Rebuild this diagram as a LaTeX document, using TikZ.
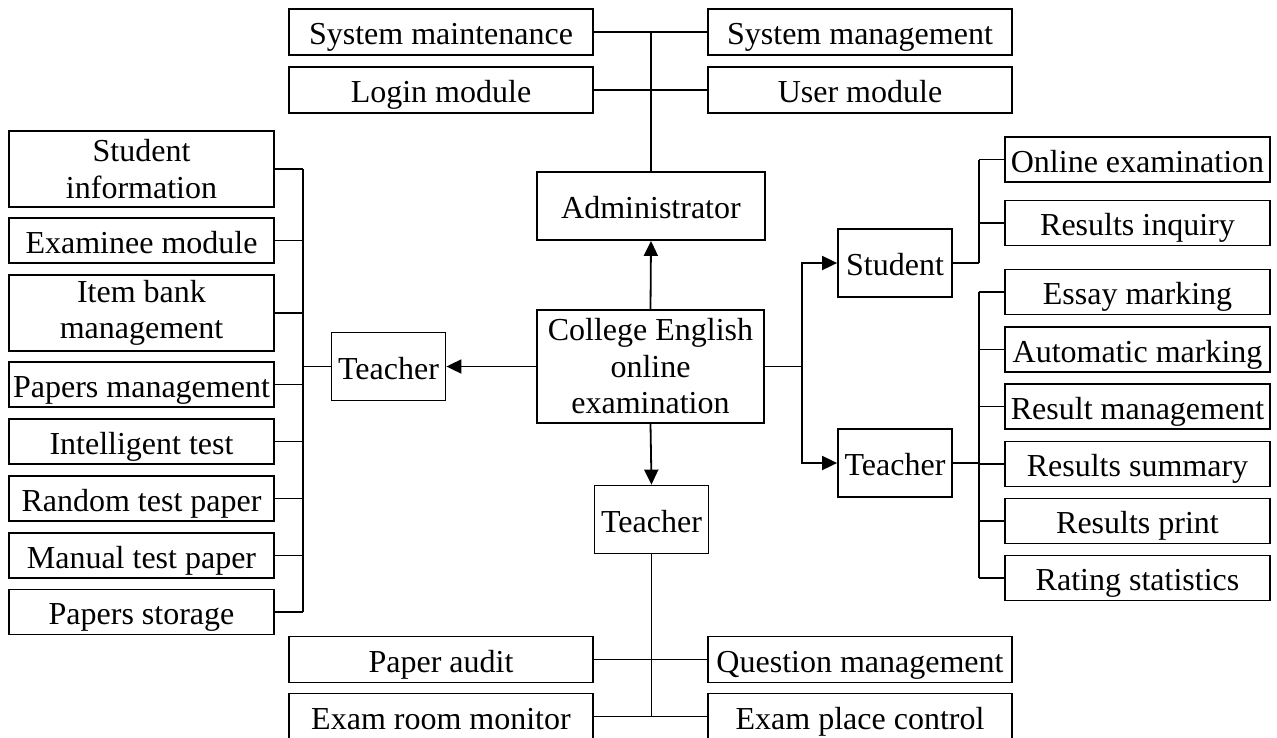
\documentclass[tikz,border=0pt]{standalone}
\usepackage{fontspec}
\setmainfont{Liberation Serif}
\usepackage{tikz}
\usetikzlibrary{arrows.meta,positioning}

\begin{document}
\begin{tikzpicture}[x=1pt,y=-1pt,line width=1.8pt,
    box/.style={draw, inner sep=0pt, align=center,
    font=\fontsize{32}{36.5}\selectfont},
    one/.style={box, text height=29pt, text depth=4pt},
    wide/.style={one, minimum width=304pt, minimum height=46pt},
    mod/.style={one, minimum width=265pt, minimum height=45pt},
    modtwo/.style={box, minimum width=265pt, minimum height=76pt},
    role/.style={one, minimum width=114pt, minimum height=68pt},
    arr/.style={-{Triangle[length=15pt,width=14pt]}}]
    \useasboundingbox (0,0) rectangle (1277,737);
    % centre and the four roles
    \node[box, minimum width=227pt, minimum height=113pt] (cee) at (650.5,366.5)
        {College English\\online\\examination};
    \node[one, minimum width=228pt, minimum height=68pt] (adm) at (651,206) {Administrator};
    \node[role] (tb) at (651.5,519.5) {Teacher};
    \node[role] (tl) at (388.5,366.5) {Teacher};
    \node[role] (st) at (895,263) {Student};
    \node[role] (tr) at (895,463) {Teacher};
    % administrator modules
    \node[wide] (sm) at (441,32) {System maintenance};
    \node[wide] (lg) at (441,90) {Login module};
    \node[wide] (sg) at (860,32) {System management};
    \node[wide] (um) at (860,90) {User module};
    % teacher (bottom) modules
    \node[wide] (pa) at (441,659.5) {Paper audit};
    \node[wide] (er) at (441,716.5) {Exam room monitor};
    \node[wide] (qm) at (860,659.5) {Question management};
    \node[wide] (ep) at (860,716.5) {Exam place control};
    % teacher (left) modules
    \node[modtwo] (l1) at (141.5,169) {Student\\information};
    \node[mod] (l2) at (141.5,240.5) {Examinee module};
    \node[modtwo] (l3) at (141.5,313) {Item bank\\management};
    \node[mod] (l4) at (141.5,384.5) {Papers management};
    \node[mod] (l5) at (141.5,441.5) {Intelligent test};
    \node[mod] (l6) at (141.5,498.5) {Random test paper};
    \node[mod] (l7) at (141.5,555.5) {Manual test paper};
    \node[mod] (l8) at (141.5,612) {Papers storage};
    % student and teacher (right) modules
    \node[mod] (r1) at (1137.5,159.5) {Online examination};
    \node[mod] (r2) at (1137.5,223) {Results inquiry};
    \node[mod] (r3) at (1137.5,292) {Essay marking};
    \node[mod] (r4) at (1137.5,349.5) {Automatic marking};
    \node[mod] (r5) at (1137.5,406.5) {Result management};
    \node[mod] (r6) at (1137.5,464) {Results summary};
    \node[mod] (r7) at (1137.5,521) {Results print};
    \node[mod] (r8) at (1137.5,578) {Rating statistics};
    % bus lines
    \coordinate (rs) at (802,366.5);
    \coordinate (lb) at (303,0);
    \coordinate (rb) at (979,0);
    % arrows from the centre
    \draw[arr] (cee.north) -- (adm.south);
    \draw[arr] (cee.south) -- (tb.north);
    \draw[arr] (cee.west) -- (tl.east);
    \draw (cee.east) -- (rs);
    \draw[arr] (rs) |- (st.west);
    \draw[arr] (rs) |- (tr.west);
    % top
    \draw (adm.north) -- (adm.north |- sm.east);
    \draw (sm.east) -- (sg.west);
    \draw (lg.east) -- (um.west);
    % bottom
    \draw (tb.south) -- (tb.south |- er.east);
    \draw (pa.east) -- (qm.west);
    \draw (er.east) -- (ep.west);
    % left
    \draw (tl.west) -- (lb |- tl.west);
    \draw (lb |- l1.east) -- (lb |- l8.east);
    \foreach \n in {l1,l2,l3,l4,l5,l6,l7,l8}
        \draw (\n.east) -- (lb |- \n.east);
    % right
    \draw (st.east) -- (rb |- st.east);
    \draw (rb |- r1.west) -- (rb |- st.east);
    \draw (tr.east) -- (rb |- tr.east);
    \draw (rb |- r3.west) -- (rb |- r8.west);
    \foreach \n in {r1,r2,r3,r4,r5,r6,r7,r8}
        \draw (rb |- \n.west) -- (\n.west);
\end{tikzpicture}
\end{document}
